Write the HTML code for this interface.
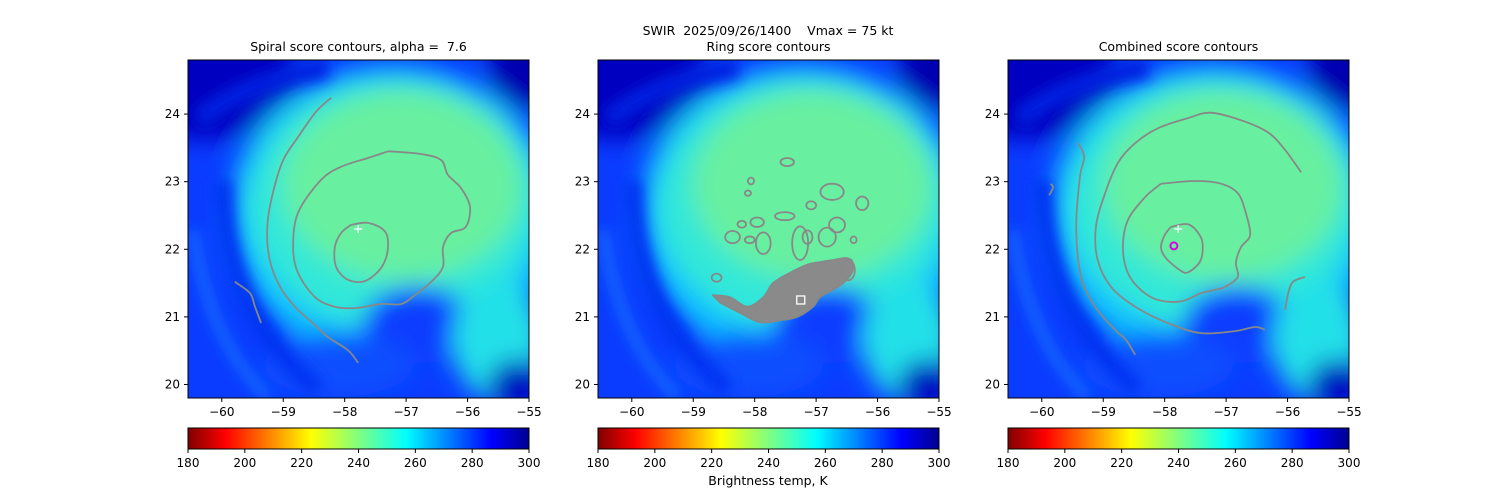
<!DOCTYPE html>
<html><head><meta charset="utf-8">
<style>
html,body{margin:0;padding:0;background:#fff;}
svg{display:block;font-family:"DejaVu Sans","Liberation Sans",sans-serif;}
text{white-space:pre;}
</style></head>
<body>
<svg id="fig" width="1500" height="500" viewBox="0 0 1500 500" xmlns="http://www.w3.org/2000/svg">
<defs>
 <filter id="bl" x="-30%" y="-30%" width="160%" height="160%"><feGaussianBlur stdDeviation="12"/></filter>
 <filter id="bl2" x="-30%" y="-30%" width="160%" height="160%"><feGaussianBlur stdDeviation="7"/></filter>
 <linearGradient id="jet" x1="0" x2="1" y1="0" y2="0">
  <stop offset="0" stop-color="#800000"/><stop offset="0.11" stop-color="#ff0000"/>
  <stop offset="0.36" stop-color="#ffff00"/><stop offset="0.5" stop-color="#80ff80"/>
  <stop offset="0.64" stop-color="#00ffff"/><stop offset="0.89" stop-color="#0000ff"/>
  <stop offset="1" stop-color="#00008f"/>
 </linearGradient>
 <clipPath id="pc"><rect x="0" y="0" width="341" height="338"/></clipPath>
 <g id="sat" clip-path="url(#pc)">
  <rect x="0" y="0" width="341" height="338" fill="#0a3cff"/>
  <g filter="url(#bl)">
   <ellipse cx="20" cy="20" rx="90" ry="60" fill="#0000c0"/>
   <ellipse cx="340" cy="10" rx="40" ry="40" fill="#0000b0"/>
   <ellipse cx="205" cy="155" rx="165" ry="150" fill="#10c0ff"/>
   <ellipse cx="205" cy="145" rx="145" ry="125" fill="#30e8d8"/>
   <ellipse cx="215" cy="125" rx="120" ry="95" fill="#68f0a0"/>
   <ellipse cx="230" cy="265" rx="55" ry="38" fill="#0a3cff"/>
   <ellipse cx="310" cy="280" rx="45" ry="60" fill="#20e0e8"/>
   <ellipse cx="150" cy="305" rx="75" ry="32" fill="#0a50ff"/>
   <ellipse cx="330" cy="325" rx="30" ry="25" fill="#0010c0"/>
  </g>
  <g filter="url(#bl2)">
   <path d="M10,60 Q60,20 140,8" stroke="#0020e0" stroke-width="20" fill="none"/>
   <path d="M35,120 Q35,250 130,330" stroke="#0030f0" stroke-width="18" fill="none"/>
   <path d="M5,170 Q20,280 80,338" stroke="#20a0ff" stroke-width="8" fill="none" opacity="0.6"/>
  </g>
 </g>
</defs>
<g id="root"></g>
</svg>
<script>
// ---- data (lon, lat) ----
const xTicks=[-60,-59,-58,-57,-56,-55];
const yTicks=[20,21,22,23,24];
const cbTicks=[180,200,220,240,260,280,300];
const spiralInner=[[-57.90,22.36],[-57.62,22.39],[-57.34,22.26],[-57.30,21.99],[-57.41,21.72],[-57.67,21.53],[-57.95,21.55],[-58.14,21.74],[-58.16,22.03],[-58.06,22.24],[-57.90,22.36]];
const spiralMid=[[-57.29,23.45],[-56.76,23.41],[-56.43,23.32],[-56.32,23.10],[-56.11,22.91],[-55.96,22.63],[-56.03,22.33],[-56.27,22.24],[-56.40,22.03],[-56.40,21.74],[-56.59,21.52],[-56.86,21.32],[-57.08,21.19],[-57.41,21.19],[-57.83,21.13],[-58.16,21.15],[-58.48,21.29],[-58.76,21.65],[-58.84,22.03],[-58.76,22.54],[-58.39,23.02],[-58.06,23.22],[-57.62,23.35],[-57.29,23.45]];
const spiralOuter=[[-58.22,24.24],[-58.30,24.18],[-58.48,24.02],[-58.76,23.66],[-59.0,23.32],[-59.17,22.83],[-59.26,22.33],[-59.22,21.84],[-59.05,21.44],[-58.81,21.15],[-58.52,20.91],[-58.27,20.70],[-57.95,20.51],[-57.78,20.32]];
const spiralSeg=[[-59.79,21.52],[-59.54,21.35],[-59.46,21.15],[-59.36,20.91]];
const ringMass=[[-58.68,21.32],[-58.40,21.29],[-58.12,21.15],[-57.86,21.29],[-57.70,21.50],[-57.43,21.65],[-57.15,21.77],[-56.94,21.81],[-56.73,21.84],[-56.50,21.87],[-56.40,21.80],[-56.42,21.65],[-56.56,21.50],[-56.73,21.40],[-56.94,21.29],[-57.05,21.15],[-57.31,21.00],[-57.59,20.95],[-57.91,20.92],[-58.24,21.06],[-58.56,21.21]];
// blobs: [lon, lat, halfWidthLon, halfHeightLat]
const ringBlobs=[[-57.47,23.29,0.11,0.06],[-58.06,23.01,0.05,0.05],[-58.11,22.83,0.05,0.04],[-56.74,22.85,0.19,0.12],[-56.25,22.68,0.1,0.1],[-57.08,22.65,0.08,0.06],[-57.51,22.49,0.16,0.06],[-57.96,22.40,0.11,0.07],[-58.21,22.37,0.07,0.05],[-58.36,22.18,0.12,0.09],[-57.86,22.09,0.12,0.16],[-57.26,22.09,0.13,0.25],[-56.82,22.18,0.14,0.14],[-56.66,22.36,0.13,0.11],[-57.14,22.18,0.08,0.1],[-58.62,21.58,0.08,0.06],[-58.08,22.14,0.08,0.05],[-56.48,21.69,0.11,0.15],[-56.39,22.14,0.05,0.05]];
const combInner=[[-57.90,22.33],[-57.62,22.37],[-57.43,22.21],[-57.38,22.03],[-57.43,21.81],[-57.62,21.66],[-57.75,21.69],[-57.98,21.87],[-58.06,22.03],[-58.0,22.21],[-57.90,22.33]];
const combMid=[[-58.06,22.97],[-57.51,23.01],[-57.08,22.97],[-56.81,22.83],[-56.68,22.54],[-56.61,22.21],[-56.76,22.03],[-56.84,21.80],[-56.81,21.59],[-57.02,21.44],[-57.18,21.40],[-57.41,21.35],[-57.73,21.23],[-58.11,21.25],[-58.39,21.40],[-58.60,21.65],[-58.68,22.03],[-58.60,22.43],[-58.32,22.77],[-58.06,22.97]];
const combOuter=[[-55.78,23.14],[-56.04,23.47],[-56.32,23.73],[-56.76,23.91],[-57.25,24.02],[-57.62,23.94],[-58.11,23.79],[-58.48,23.57],[-58.76,23.28],[-58.97,22.83],[-59.12,22.33],[-59.09,21.84],[-58.87,21.44],[-58.48,21.15],[-57.95,20.91],[-57.41,20.76],[-56.86,20.79],[-56.53,20.85],[-56.37,20.81]];
const combBranch=[[-56.04,21.10],[-55.99,21.35],[-55.91,21.52],[-55.72,21.59]];
const combLeft=[[-59.41,23.57],[-59.31,23.37],[-59.38,23.07],[-59.44,22.33],[-59.36,21.59],[-59.13,21.15],[-58.81,20.81],[-58.63,20.66],[-58.48,20.44]];
const combHook=[[-59.85,22.97],[-59.82,22.91],[-59.88,22.80]];
const centerPlus=[-57.78,22.30];
const ringSquare=[-57.25,21.25];
const combCircle=[-57.85,22.05];

// ---- layout ----
const NS="http://www.w3.org/2000/svg";
const root=document.getElementById('root');
const X0=-60.55,X1=-55,Y0=19.8,Y1=24.8,PW=341,PH=338,PT=60;
const panels=[188,598,1008];
function el(t,a,p){const e=document.createElementNS(NS,t);for(const k in a)e.setAttribute(k,a[k]);(p||root).appendChild(e);return e;}
function sx(L,v){return L+(v-X0)/(X1-X0)*PW;}
function sy(v){return PT+(Y1-v)/(Y1-Y0)*PH;}
function smooth(P){
 let d='M'+P[0][0].toFixed(1)+','+P[0][1].toFixed(1);
 for(let i=0;i<P.length-1;i++){
  const p0=P[Math.max(0,i-1)],p1=P[i],p2=P[i+1],p3=P[Math.min(P.length-1,i+2)];
  const c1=[p1[0]+(p2[0]-p0[0])/6,p1[1]+(p2[1]-p0[1])/6],c2=[p2[0]-(p3[0]-p1[0])/6,p2[1]-(p3[1]-p1[1])/6];
  d+=`C${c1[0].toFixed(1)},${c1[1].toFixed(1)} ${c2[0].toFixed(1)},${c2[1].toFixed(1)} ${p2[0].toFixed(1)},${p2[1].toFixed(1)}`;
 }
 return d;
}
function line(L,pts,name,fill){
 const P=pts.map(p=>[sx(L,p[0]),sy(p[1])]);
 const e=el('path',{d:smooth(P)+(fill?'Z':''),fill:fill||'none',stroke:'#888888','stroke-width':1.8,'stroke-linejoin':'round'});
 
 
}
function text(x,y,s,anchor,size,name){
 const t=el('text',{x:x,y:y,'text-anchor':anchor,'font-size':size,fill:'#000'});t.textContent=s;
 
 
 return t;
}
const titles=["Spiral score contours, alpha =  7.6","Ring score contours","Combined score contours"];
panels.forEach((L,i)=>{
 const u=el('use',{href:'#sat',x:L,y:PT});
 
 
 xTicks.forEach(v=>{const x=sx(L,v);el('line',{x1:x,x2:x,y1:PT+PH,y2:PT+PH+4,stroke:'#000'});
  text(x,PT+PH+18,'\u2212'+Math.abs(v),'middle',12,'x-tick-label');});
 yTicks.forEach(v=>{const y=sy(v);el('line',{x1:L,x2:L-4,y1:y,y2:y,stroke:'#000'});
  text(L-8,y+4,String(v),'end',12,'y-tick-label');});
 text(L+PW/2,51,titles[i],'middle',12.5,'panel-title-'+(i+1));
 const cb=el('rect',{x:L,y:428,width:PW,height:21,fill:'url(#jet)',stroke:'#000','stroke-width':1});
 
 
 cbTicks.forEach(v=>{const x=L+(v-180)/120*PW;el('line',{x1:x,x2:x,y1:449,y2:453,stroke:'#000'});
  text(x,467,String(v),'middle',12,'colorbar-tick-label');});
});
const [A,B,C]=panels;
line(A,spiralInner,'spiral-contour-inner');line(A,spiralMid,'spiral-contour-mid');
line(A,spiralOuter,'spiral-contour-outer');line(A,spiralSeg,'spiral-contour-segment');
line(B,ringMass,'ring-contour-mass','#8a8a8a');
ringBlobs.forEach(b=>{
 const e=el('ellipse',{cx:sx(B,b[0]),cy:sy(b[1]),rx:b[2]/(X1-X0)*PW,ry:b[3]/(Y1-Y0)*PH,fill:'none',stroke:'#888888','stroke-width':1.8});
 
 
});
line(C,combInner,'combined-contour-inner');line(C,combMid,'combined-contour-mid');
line(C,combOuter,'combined-contour-outer');line(C,combBranch,'combined-contour-branch');
line(C,combLeft,'combined-contour-left');line(C,combHook,'combined-contour-hook');
function plus(L,p,name){const x=sx(L,p[0]),y=sy(p[1]);
 const g=el('path',{d:`M${x-4},${y}H${x+4}M${x},${y-4}V${y+4}`,stroke:'#fff','stroke-width':1.2});
 }
plus(A,centerPlus,'center-marker-1');plus(C,centerPlus,'center-marker-3');
const sq=el('rect',{x:sx(B,ringSquare[0])-4,y:sy(ringSquare[1])-4,width:8,height:8,fill:'none',stroke:'#fff','stroke-width':1.3});

const ci=el('circle',{cx:sx(C,combCircle[0]),cy:sy(combCircle[1]),r:3.5,fill:'none',stroke:'#e000e0','stroke-width':2});

panels.forEach((L,i)=>{
 const fr=el('rect',{x:L,y:PT,width:PW,height:PH,fill:'none',stroke:'#000','stroke-width':1});
 
 
});
text(768,35,'SWIR  2025/09/26/1400    Vmax = 75 kt','middle',12.5,'figure-suptitle');
text(768,485,'Brightness temp, K','middle',12.5,'colorbar-label');
</script>
</body></html>
